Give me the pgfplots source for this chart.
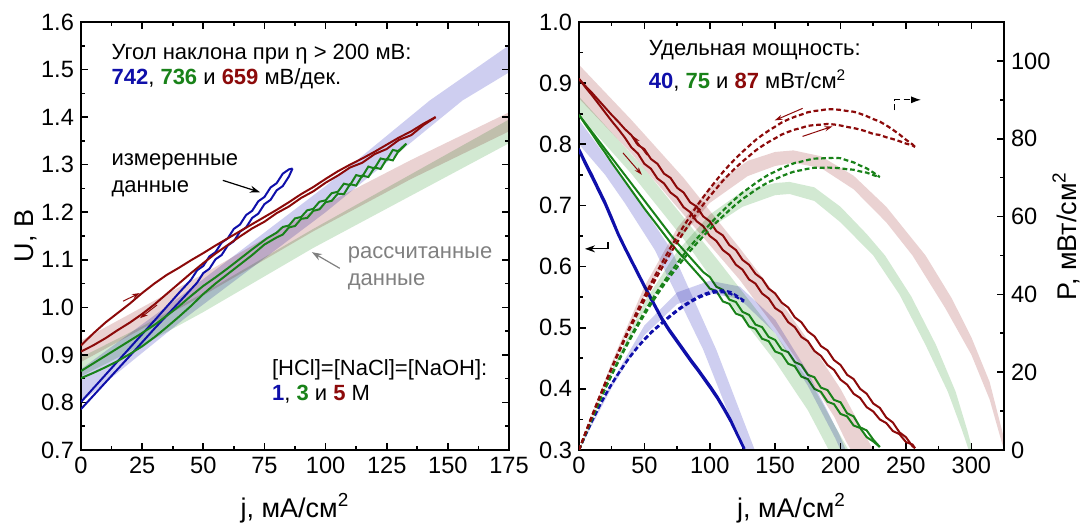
\documentclass[border=0pt]{standalone}
\usepackage{fontspec}
\setmainfont{Liberation Sans}
\usepackage{pgfplots}
\pgfplotsset{compat=1.18}
\usetikzlibrary{arrows.meta}
\definecolor{cblue}{RGB}{15,15,170}
\definecolor{cgreen}{RGB}{25,130,25}
\definecolor{cred}{RGB}{140,10,10}
\definecolor{bblue}{RGB}{206,206,240}
\definecolor{bred}{RGB}{234,210,210}
\definecolor{bgreen}{RGB}{210,233,210}
\definecolor{tgray}{RGB}{128,128,128}
\pgfplotsset{
  myax/.style={
    scale only axis, height=214pt,
    axis line style={line width=0.8pt},
    every tick/.append style={line width=0.8pt, black},
    tick align=inside,
    major tick length=3.6pt, minor tick length=2pt,
    tick label style={font=\fontsize{11.8}{14}\selectfont},
    label style={font=\fontsize{13.5}{16}\selectfont},
    /pgf/number format/assume math mode=true,
    no markers,
  },
  meas/.style={line width=1pt},
  pdash/.style={line width=1.1pt, dash pattern=on 2.4pt off 1.4pt},
  band/.style={draw=none, blend mode=multiply},
}
\newcommand{\ann}{\fontsize{11}{13}\selectfont}
\begin{document}
\begin{tikzpicture}
\useasboundingbox (0,0) rectangle (541.5pt,262pt);
% ================= LEFT PANEL =================
\begin{axis}[myax, at={(40.5pt,37pt)}, anchor=south west, width=214pt,
  xmin=0, xmax=175, ymin=0.7, ymax=1.6,
  xtick={0,25,50,75,100,125,150,175}, minor x tick num=1,
  ytick={0.7,0.8,0.9,1.0,1.1,1.2,1.3,1.4,1.5,1.6}, minor y tick num=1,
  yticklabel style={/pgf/number format/.cd,fixed,fixed zerofill,precision=1},
  xlabel={j, мА/см\textsuperscript{2}}, ylabel={U, В},
  xlabel style={at={(axis description cs:0.5,-0.1355)}, anchor=center},
  ylabel style={at={(axis description cs:-0.128,0.5)}, anchor=center},
]
% calculated bands
\addplot[band, fill=bblue] coordinates {(0,0.87)(42.5,1.03)(100,1.255)(142.6,1.435)(175,1.551)(175,1.494)(156,1.435)(100,1.20)(42.5,0.977)(0,0.80)};
\addplot[band, fill=bred] coordinates {(0,0.93)(25,1.0)(50,1.07)(95,1.204)(135,1.31)(175,1.41)(175,1.37)(135,1.27)(95,1.16)(50,1.025)(25,0.955)(0,0.885)};
\addplot[band, fill=bgreen] coordinates {(0,0.895)(25,0.96)(50,1.03)(95,1.165)(135,1.28)(175,1.395)(175,1.345)(135,1.235)(95,1.125)(50,0.99)(25,0.92)(0,0.855)};
% measured: blue
\addplot[meas, cblue] coordinates {(0,0.801)(10,0.858)(20,0.915)(30,0.972)(40,1.030)(45,1.058)(47.5,1.078)(50,1.087)(52.5,1.107)(55,1.116)(57.5,1.136)(60,1.145)(62.5,1.165)(65,1.174)(67.5,1.194)(70,1.203)(72.5,1.223)(75,1.232)(77.5,1.252)(80,1.261)(82.5,1.281)(85,1.290)(86.5,1.292)};
\addplot[meas, cblue] coordinates {(0,0.786)(10,0.842)(20,0.898)(30,0.955)(40,1.010)(45,1.038)(47.5,1.052)(50,1.072)(52.5,1.081)(55,1.101)(57.5,1.110)(60,1.130)(62.5,1.139)(65,1.159)(67.5,1.168)(70,1.188)(72.5,1.197)(75,1.217)(77.5,1.226)(80,1.246)(82.5,1.255)(85,1.275)(86.5,1.292)};
% measured: green
\addplot[meas, cgreen] coordinates {(0,0.866)(5,0.882)(10,0.898)(15,0.914)(20,0.930)(25,0.946)(30,0.963)(35,0.982)(40,1.002)(45,1.024)(50,1.045)(55,1.063)(60,1.082)(65,1.102)(70,1.122)(76,1.145)(80,1.157)(82.5,1.169)(85,1.172)(87.5,1.187)(90,1.190)(92.5,1.204)(95,1.207)(97.5,1.222)(100,1.225)(102.5,1.240)(105,1.243)(107.5,1.260)(110,1.257)(112.5,1.278)(115,1.275)(117.5,1.296)(120,1.292)(122.5,1.313)(125,1.310)(127.5,1.331)(130,1.328)(133,1.344)};
\addplot[meas, cgreen] coordinates {(0,0.851)(5,0.862)(10,0.874)(15,0.887)(20,0.902)(25,0.918)(30,0.937)(35,0.958)(40,0.980)(45,1.003)(50,1.028)(55,1.050)(60,1.070)(65,1.090)(70,1.110)(75,1.132)(80,1.147)(82.5,1.153)(85,1.168)(87.5,1.171)(90,1.186)(92.5,1.188)(95,1.203)(97.5,1.206)(100,1.221)(102.5,1.224)(105,1.239)(107.5,1.238)(110,1.259)(112.5,1.256)(115,1.277)(117.5,1.274)(120,1.294)(122.5,1.291)(125,1.312)(127.5,1.309)(130,1.330)(133,1.344)};
% measured: red
\addplot[meas, cred] coordinates {(0,0.920)(5,0.945)(10,0.968)(15,0.988)(20,1.008)(25,1.030)(30,1.050)(35,1.068)(40,1.083)(45,1.099)(50,1.114)(55,1.130)(60,1.145)(65,1.160)(70,1.175)(75,1.190)(80,1.205)(85,1.221)(90,1.238)(95,1.253)(100,1.270)(105,1.286)(110,1.300)(115,1.313)(120,1.327)(125,1.342)(130,1.357)(135,1.370)(140,1.386)(145,1.400)};
\addplot[meas, cred] coordinates {(0,0.907)(5,0.920)(10,0.935)(15,0.952)(20,0.968)(25,0.986)(30,1.006)(35,1.028)(40,1.050)(45,1.072)(50,1.093)(55,1.113)(60,1.131)(65,1.149)(70,1.166)(75,1.180)(80,1.198)(85,1.212)(90,1.230)(95,1.244)(100,1.262)(105,1.277)(110,1.294)(115,1.304)(120,1.322)(125,1.333)(130,1.352)(135,1.362)(140,1.383)(145,1.400)};
% arrows
\draw[cred, line width=0.5pt, -{Stealth[length=4pt,width=2.5pt]}] (axis cs:17.2,1.013) -- (axis cs:24.1,1.030);
\draw[cred, line width=0.5pt, -{Stealth[length=4pt,width=2.5pt]}] (axis cs:31.1,1.005) -- (axis cs:24.1,0.977);
\draw[black, line width=0.6pt, -{Stealth[length=5pt,width=3.5pt]}] (axis cs:58,1.267) -- (axis cs:73.2,1.242);
\draw[tgray, line width=0.6pt, -{Stealth[length=5pt,width=3.5pt]}] (axis cs:105.8,1.082) -- (axis cs:94.4,1.116);
% texts
\node[anchor=west, font=\ann] at (axis description cs:0.055,0.925) {Угол наклона при η > 200 мВ:};
\node[anchor=west, font=\ann] at (axis description cs:0.055,0.867) {{\bfseries\color{cblue}742}, {\bfseries\color{cgreen}736} и {\bfseries\color{cred}659} мВ/дек.};
\node[anchor=west, font=\ann] at (axis description cs:0.055,0.673) {измеренные};
\node[anchor=west, font=\ann] at (axis description cs:0.055,0.610) {данные};
\node[anchor=west, font=\ann, text=tgray] at (axis description cs:0.607,0.456) {рассчитанные};
\node[anchor=west, font=\ann, text=tgray] at (axis description cs:0.607,0.393) {данные};
\node[anchor=west, font=\ann] at (axis description cs:0.430,0.187) {[HCl]=[NaCl]=[NaOH]:};
\node[anchor=west, font=\ann] at (axis description cs:0.430,0.131) {{\bfseries\color{cblue}1}, {\bfseries\color{cgreen}3} и {\bfseries\color{cred}5} М};
\end{axis}
% ================= RIGHT PANEL: U =================
\begin{axis}[myax, at={(289.5pt,37pt)}, anchor=south west, width=212.5pt,
  xmin=0, xmax=325, ymin=0.3, ymax=1.0,
  xtick={0,50,100,150,200,250,300}, minor x tick num=1,
  ytick={0.3,0.4,0.5,0.6,0.7,0.8,0.9,1.0}, minor y tick num=1,
  ytick pos=left,
  yticklabel style={/pgf/number format/.cd,fixed,fixed zerofill,precision=1},
  xlabel={j, мА/см\textsuperscript{2}},
  xlabel style={at={(axis description cs:0.5,-0.1355)}, anchor=center},
]
\addplot[band, fill=bblue] coordinates {(0,0.84)(25,0.767)(46.6,0.704)(70.8,0.627)(105,0.464)(134.4,0.30)(140,0.27)(131,0.27)(125.4,0.30)(95,0.464)(58,0.627)(35,0.704)(20,0.75)(0,0.80)};
\addplot[band, fill=bgreen] coordinates {(0,0.878)(50,0.76)(106,0.611)(150,0.49)(180,0.40)(206,0.30)(211,0.28)(197,0.28)(191,0.30)(175,0.365)(150,0.445)(123,0.52)(106,0.567)(80,0.645)(40,0.752)(0,0.848)};
\addplot[band, fill=bred] coordinates {(0,0.93)(40,0.84)(80,0.745)(123,0.63)(150,0.555)(180,0.465)(200,0.40)(220,0.32)(225,0.30)(230,0.28)(212,0.28)(208,0.30)(204,0.315)(195,0.355)(180,0.405)(150,0.50)(123,0.578)(80,0.685)(40,0.785)(0,0.875)};
% blue U
\addplot[meas, cblue] coordinates {(0,0.793)(5,0.771)(10,0.750)(15,0.728)(20,0.706)(25,0.681)(30,0.655)(35,0.633)(40,0.612)(45,0.591)(50,0.570)(56,0.546)(63,0.518)(69,0.498)(75,0.480)(80,0.465)(86,0.447)(91,0.433)(96,0.418)(101,0.403)(106,0.387)(111,0.369)(116,0.350)(121,0.327)(126.7,0.302)};
\addplot[meas, cblue] coordinates {(0,0.789)(5,0.766)(10,0.745)(15,0.723)(20,0.701)(25,0.676)(30,0.651)(35,0.629)(40,0.608)(45,0.587)(50,0.566)(56,0.542)(63,0.514)(69,0.494)(75,0.476)(80,0.461)(86,0.443)(91,0.429)(96,0.414)(101,0.399)(106,0.383)(111,0.365)(116,0.346)(121,0.324)(126,0.302)};
% green U
\addplot[meas, cgreen] coordinates {(0,0.848)(5,0.834)(10,0.820)(15,0.806)(20,0.792)(25,0.778)(30,0.764)(35,0.750)(40,0.736)(45,0.722)(50,0.708)(55,0.694)(60,0.680)(65,0.666)(70,0.652)(75,0.639)(80,0.627)(85,0.615)(90,0.603)(95,0.591)(100,0.583)(105,0.567)(110,0.562)(115,0.546)(120,0.542)(125,0.526)(130,0.521)(135,0.505)(140,0.501)(145,0.485)(150,0.480)(155,0.464)(160,0.460)(165,0.444)(170,0.439)(175,0.423)(180,0.419)(185,0.402)(190,0.398)(195,0.382)(200,0.378)(205,0.360)(210,0.355)(215,0.337)(220,0.332)(225,0.317)(230,0.305)};
\addplot[meas, cgreen] coordinates {(0,0.848)(5,0.832)(10,0.817)(15,0.801)(20,0.786)(25,0.770)(30,0.755)(35,0.740)(40,0.725)(45,0.710)(50,0.695)(55,0.681)(60,0.667)(65,0.653)(70,0.639)(75,0.626)(80,0.614)(85,0.602)(90,0.590)(95,0.578)(100,0.564)(105,0.560)(110,0.543)(115,0.539)(120,0.523)(125,0.519)(130,0.502)(135,0.498)(140,0.482)(145,0.478)(150,0.461)(155,0.457)(160,0.441)(165,0.437)(170,0.420)(175,0.416)(180,0.400)(185,0.395)(190,0.379)(195,0.375)(200,0.359)(205,0.355)(210,0.340)(215,0.336)(220,0.321)(225,0.314)(230,0.305)};
% red U
\addplot[meas, cred] coordinates {(0,0.907)(5,0.895)(10,0.884)(15,0.872)(20,0.860)(25,0.848)(30,0.837)(35,0.825)(40,0.815)(45,0.799)(50,0.792)(55,0.776)(60,0.768)(65,0.752)(70,0.745)(75,0.729)(80,0.721)(85,0.705)(90,0.698)(95,0.682)(100,0.674)(105,0.658)(110,0.651)(115,0.635)(120,0.627)(125,0.611)(130,0.603)(135,0.588)(140,0.580)(145,0.564)(150,0.556)(155,0.541)(160,0.533)(165,0.517)(170,0.509)(175,0.494)(180,0.486)(185,0.470)(190,0.463)(195,0.447)(200,0.439)(205,0.423)(210,0.416)(215,0.400)(220,0.392)(225,0.376)(230,0.369)(235,0.353)(240,0.345)(245,0.329)(250,0.321)(255,0.306)(257,0.303)};
\addplot[meas, cred] coordinates {(0,0.907)(5,0.893)(10,0.880)(15,0.866)(20,0.852)(25,0.838)(30,0.825)(35,0.811)(40,0.795)(45,0.785)(50,0.768)(55,0.760)(60,0.744)(65,0.736)(70,0.721)(75,0.713)(80,0.697)(85,0.689)(90,0.674)(95,0.666)(100,0.650)(105,0.642)(110,0.627)(115,0.619)(120,0.603)(125,0.595)(130,0.579)(135,0.572)(140,0.556)(145,0.548)(150,0.532)(155,0.525)(160,0.509)(165,0.501)(170,0.485)(175,0.478)(180,0.462)(185,0.454)(190,0.439)(195,0.431)(200,0.415)(205,0.407)(210,0.392)(215,0.385)(220,0.370)(225,0.363)(230,0.350)(235,0.344)(240,0.331)(245,0.326)(250,0.313)(255,0.309)(257,0.303)};
% arrows
\draw[black, line width=0.6pt, -{Stealth[length=5pt,width=3.5pt]}] (axis cs:22.1,0.640) -- (axis cs:22.1,0.629) -- (axis cs:4.6,0.629);
\draw[cred, line width=0.5pt, -{Stealth[length=4pt,width=2.5pt]}] (axis cs:51.9,0.7825) -- (axis cs:41.2,0.8136);
\draw[cred, line width=0.5pt, -{Stealth[length=4pt,width=2.5pt]}] (axis cs:33.6,0.786) -- (axis cs:48.1,0.750);
\node[anchor=west, font=\ann] at (axis description cs:0.148,0.935) {Удельная мощность:};
\node[anchor=west, font=\ann] at (axis description cs:0.148,0.864) {{\bfseries\color{cblue}40}, {\bfseries\color{cgreen}75} и {\bfseries\color{cred}87} мВт/см\textsuperscript{2}};
\end{axis}
% ================= RIGHT PANEL: P =================
\begin{axis}[myax, at={(289.5pt,37pt)}, anchor=south west, width=212.5pt,
  xmin=0, xmax=325, ymin=0, ymax=110,
  axis x line=none, axis y line*=right,
  ytick={0,20,40,60,80,100}, minor y tick num=1,
  ylabel={P, мВт/см\textsuperscript{2}},
  ylabel style={at={(axis description cs:1.146,0.5)}, anchor=center},
]
\addplot[band, fill=bblue] coordinates {(0,0)(25,17.5)(50,32)(75,40.5)(100,43.5)(123,42)(150,33.5)(175,20)(199,4)(204,0)(200,0)(196,3)(175,16.5)(150,30)(123,38.8)(100,40.3)(75,37.5)(50,29.5)(25,16)(0,0)};
\addplot[band, fill=bgreen] coordinates {(0,0)(25,20.5)(50,38)(75,51)(100,60.5)(125,66.5)(150,68.6)(161,68.9)(180,67.5)(200,62.5)(220,55.5)(234,50)(254,39.5)(273,27)(288,15)(297,5)(301,0)(298,0)(293,5)(282,15)(265,27)(245,40)(225,50)(200,58.5)(180,64)(161,65.8)(150,65.5)(125,62.5)(100,57)(75,48)(50,36)(25,19.5)(0,0)};
\addplot[band, fill=bred] coordinates {(0,0)(25,22.5)(50,42)(75,57)(100,67.5)(129,74.3)(150,76.6)(164,77.0)(185,75.5)(210,70.5)(235,62.5)(265,50)(285,39)(300,29)(314,17.5)(325,3)(327,0)(325,0)(322,3.5)(314,13)(300,24.5)(280,36.5)(255,50)(235,58.5)(210,67)(185,72.5)(164,73.8)(150,73)(129,70.4)(100,63.5)(75,53.5)(50,39.5)(25,21.5)(0,0)};
% blue P
\addplot[pdash, cblue] coordinates {(0,0)(5,3.86)(10,7.5)(15,10.92)(20,14.12)(25,17.03)(30,19.65)(35,22.16)(40,24.48)(45,26.6)(50,28.5)(56,30.58)(63,32.63)(69,34.36)(75,36.0)(80,37.2)(86,38.44)(91,39.4)(96,40.13)(101,40.7)(106,41.02)(111,40.96)(116,40.6)(121,39.57)(126.7,38.26)};
\addplot[pdash, cblue] coordinates {(0,0)(5,3.83)(10,7.45)(15,10.85)(20,14.02)(25,16.9)(30,19.53)(35,22.02)(40,24.32)(45,26.42)(50,28.3)(56,30.35)(63,32.38)(69,34.09)(75,35.7)(80,36.88)(86,38.1)(91,39.04)(96,39.74)(101,40.3)(106,40.6)(111,40.52)(116,40.14)(121,39.2)(126,38.05)};
% green P
\addplot[pdash, cgreen] coordinates {(0,0)(5,4.17)(10,8.2)(15,12.09)(20,15.84)(25,19.45)(30,22.92)(35,26.25)(40,29.44)(45,32.49)(50,35.4)(55,38.17)(60,40.8)(65,43.29)(70,45.64)(75,47.93)(80,50.16)(85,52.28)(90,54.27)(95,56.15)(100,58.0)(105,59.85)(110,61.49)(115,63.14)(120,64.68)(125,66.13)(130,67.34)(135,68.58)(140,69.72)(145,70.76)(150,71.55)(155,72.39)(160,73.12)(165,73.76)(170,74.12)(175,74.55)(180,74.88)(185,74.93)(190,75.05)(195,75.08)(200,75.0)(205,74.42)(210,73.92)(215,73.1)(220,72.38)(225,71.33)(230,70.15)};
\addplot[pdash, cgreen] coordinates {(0,0)(5,4.16)(10,8.17)(15,12.02)(20,15.72)(25,19.25)(30,22.65)(35,25.9)(40,29.0)(45,31.95)(50,34.75)(55,37.46)(60,40.02)(65,42.45)(70,44.73)(75,46.95)(80,49.12)(85,51.17)(90,53.1)(95,54.91)(100,56.7)(105,58.49)(110,60.06)(115,61.64)(120,63.12)(125,64.5)(130,65.65)(135,66.83)(140,67.9)(145,68.88)(150,69.6)(155,70.37)(160,71.04)(165,71.61)(170,71.91)(175,72.28)(180,72.54)(185,72.52)(190,72.58)(195,72.54)(200,72.4)(205,72.16)(210,72.03)(215,71.6)(220,71.28)(225,70.65)(230,70.15)};
% red P
\addplot[pdash, cred] coordinates {(0,0)(5,4.48)(10,8.84)(15,13.08)(20,17.2)(25,21.2)(30,25.11)(35,28.88)(40,32.52)(45,36.05)(50,39.5)(55,42.79)(60,45.96)(65,49.01)(70,52.01)(75,54.83)(80,57.52)(85,60.1)(90,62.64)(95,64.98)(100,67.2)(105,69.3)(110,71.39)(115,73.26)(120,75.0)(125,76.63)(130,78.13)(135,79.65)(140,80.92)(145,82.07)(150,83.1)(155,84.17)(160,84.96)(165,85.64)(170,86.19)(175,86.8)(180,87.12)(185,87.32)(190,87.59)(195,87.56)(200,87.4)(205,87.13)(210,86.94)(215,86.43)(220,85.8)(225,85.05)(230,84.41)(235,83.43)(240,82.32)(245,81.1)(250,79.75)(255,78.54)(257,77.87)};
\addplot[pdash, cred] coordinates {(0,0)(5,4.47)(10,8.80)(15,13.0)(20,17.04)(25,20.95)(30,24.75)(35,28.39)(40,31.88)(45,35.24)(50,38.5)(55,41.69)(60,44.76)(65,47.71)(70,50.61)(75,53.33)(80,55.92)(85,58.4)(90,60.84)(95,63.08)(100,65.2)(105,67.2)(110,69.19)(115,70.96)(120,72.6)(125,74.13)(130,75.53)(135,76.95)(140,78.12)(145,79.17)(150,80.1)(155,81.07)(160,81.76)(165,82.34)(170,82.79)(175,83.3)(180,83.52)(185,83.62)(190,83.79)(195,83.66)(200,83.4)(205,83.03)(210,82.74)(215,82.35)(220,81.84)(225,81.23)(230,80.96)(235,80.37)(240,79.92)(245,79.38)(250,78.75)(255,78.29)(257,77.87)};
% arrows
\draw[cred, line width=0.5pt, -{Stealth[length=4pt,width=2.5pt]}] (axis cs:171,87.8) -- (axis cs:149.6,84.7);
\draw[cred, line width=0.5pt, -{Stealth[length=4pt,width=2.5pt]}] (axis cs:171,80.6) -- (axis cs:193.9,83.2);
\draw[black, line width=0.6pt, densely dashed, -{Latex[length=5pt,width=3.5pt]}] (axis cs:241,87.3) -- (axis cs:241,90) -- (axis cs:261.6,90);
\end{axis}
\end{tikzpicture}
\end{document}
